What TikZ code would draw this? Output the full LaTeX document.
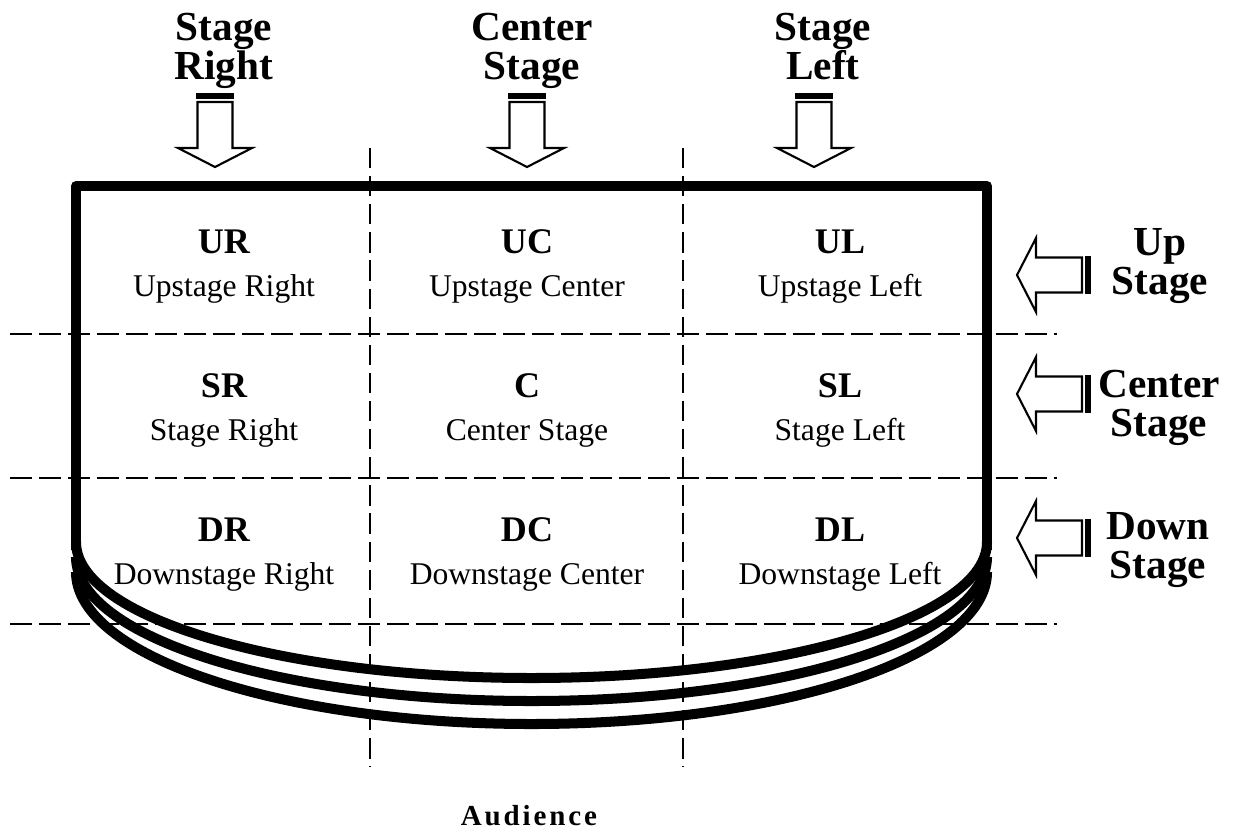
\documentclass[tikz,border=0pt]{standalone}
\usepackage{fontspec}
\setmainfont{Liberation Serif}
\tikzset{
  stagearrow/.pic={
    \draw[line width=1.2pt, fill=white, line join=miter]
      (0,0) -- (-37,-19) -- (-17.5,-19) -- (-17.5,-65) -- (17.5,-65) -- (17.5,-19) -- (37,-19) -- cycle;
    \fill (-19,-68) rectangle (19,-74);
  },
  outline/.style={line width=5.7pt, line join=round},
  curtain/.style={line width=5.7pt},
  hgrid/.style={line width=1.1pt, dash pattern=on 12.5pt off 4pt},
  vgrid/.style={line width=1.1pt, dash pattern=on 11.5pt off 4.5pt},
  code/.style={font=\fontsize{20.5}{22}\selectfont\bfseries, anchor=base, inner sep=0pt},
  desc/.style={font=\fontsize{18}{20}\selectfont, anchor=base, inner sep=0pt},
  side/.style={font=\fontsize{23.5}{22.5}\selectfont\bfseries, align=center, inner sep=0pt},
}
\begin{document}
\begin{tikzpicture}[x=0.02cm,y=-0.02cm]
\fill[white] (0,0) rectangle (1239,829);
\useasboundingbox (0,0) rectangle (1239,829);

% curtain arcs (front of the stage)
\foreach \s/\b in {542/678, 557/701, 572/724}{
  \pgfmathsetmacro{\c}{\s+0.5523*(\b-\s)}
  \draw[curtain] (76,\s) .. controls (76,\c) and (279.9,\b) .. (531.5,\b)
                 .. controls (783.1,\b) and (987,\c) .. (987,\s);
}
% stage outline
\draw[outline] (76,550) -- (76,186) -- (987,186) -- (987,550);

% grid
\draw[hgrid] (10,334) -- (1057,334);
\draw[hgrid] (10,478) -- (1057,478);
\draw[hgrid] (10,624) -- (1057,624);
\draw[vgrid] (370,148) -- (370,767);
\draw[vgrid] (683,148) -- (683,767);

% cell labels
\node[code] (ur) at (224,253) {UR};
\node[desc] (urd) at (224,296) {Upstage Right};
\node[code] (uc) at (527,253) {UC};
\node[desc] (ucd) at (527,296) {Upstage Center};
\node[code] (ul) at (840,253) {UL};
\node[desc] (uld) at (840,296) {Upstage Left};
\node[code] (sr) at (224,397) {SR};
\node[desc] (srd) at (224,440) {Stage Right};
\node[code] (c) at (527,397) {C};
\node[desc] (cd) at (527,440) {Center Stage};
\node[code] (sl) at (840,397) {SL};
\node[desc] (sld) at (840,440) {Stage Left};
\node[code] (dr) at (224,541) {DR};
\node[desc] (drd) at (224,584) {Downstage Right};
\node[code] (dc) at (527,541) {DC};
\node[desc] (dcd) at (527,584) {Downstage Center};
\node[code] (dl) at (840,541) {DL};
\node[desc] (dld) at (840,584) {Downstage Left};

% top labels and arrows
\node[side] (tsr) at (224,51) {Stage\\Right};
\node[side] (tcs) at (532,51) {Center\\Stage};
\node[side] (tsl) at (823,51) {Stage\\Left\vphantom{g}};
\pic at (215,167) {stagearrow};
\pic at (527,167) {stagearrow};
\pic at (814,167) {stagearrow};

% side labels and arrows
\node[side] (rus) at (1160,266) {Up\\Stage};
\node[side] (rcs) at (1159,408) {Center\\Stage};
\node[side] (rds) at (1158,550) {Down\\Stage};
\pic[rotate=-90] at (1017,275) {stagearrow};
\pic[rotate=-90] at (1017,394) {stagearrow};
\pic[rotate=-90] at (1017,538) {stagearrow};

% audience
\node[font=\fontsize{16.5}{18}\selectfont\bfseries\addfontfeature{LetterSpace=10}, anchor=base, inner sep=0pt] (aud) at (529,825) {Audience};
\end{tikzpicture}
\end{document}
